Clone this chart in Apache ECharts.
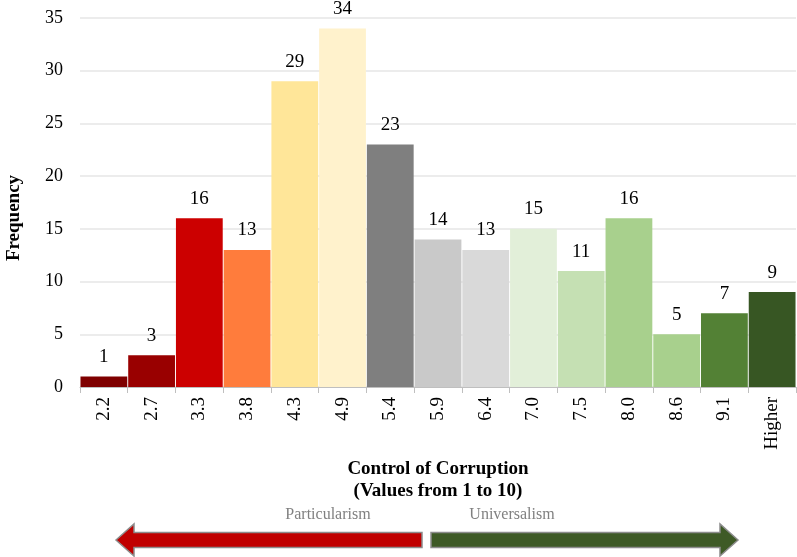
<!DOCTYPE html>
<html>
<head>
<meta charset="utf-8">
<script src="https://cdn.jsdelivr.net/npm/echarts@6/dist/echarts.min.js"></script>
<style>
  html, body { margin: 0; padding: 0; background: #fff; }
  #chart { width: 797px; height: 557px; }
</style>
</head>
<body>
<div id="chart"></div>
<script>
const categories = ['2.2', '2.7', '3.3', '3.8', '4.3', '4.9', '5.4', '5.9', '6.4', '7.0', '7.5', '8.0', '8.6', '9.1', 'Higher'];
const frequency = [1, 3, 16, 13, 29, 34, 23, 14, 13, 15, 11, 16, 5, 7, 9];
const barColors = ['#7f0000', '#990000', '#cc0000', '#ff7c3c', '#ffe699', '#fff2cc', '#7f7f7f', '#c9c9c9',
  '#d9d9d9', '#e2efd9', '#c5e0b3', '#a8d08d', '#a8d08d', '#538135', '#375623'];

const serif = '"Liberation Serif", "Times New Roman", serif';
const chart = echarts.init(document.getElementById('chart'));

// arrow shapes: left (red) and right (green)
function arrowLeft(x0, x1, cy, shaftH, headW, headH) {
  return [[x0, cy], [x0 + headW, cy - headH / 2], [x0 + headW, cy - shaftH / 2], [x1, cy - shaftH / 2],
    [x1, cy + shaftH / 2], [x0 + headW, cy + shaftH / 2], [x0 + headW, cy + headH / 2]];
}
function arrowRight(x0, x1, cy, shaftH, headW, headH) {
  return [[x1, cy], [x1 - headW, cy - headH / 2], [x1 - headW, cy - shaftH / 2], [x0, cy - shaftH / 2],
    [x0, cy + shaftH / 2], [x1 - headW, cy + shaftH / 2], [x1 - headW, cy + headH / 2]];
}

chart.setOption({
  animation: false,
  grid: { left: 80, right: 1, top: 18, bottom: 170, outerBoundsMode: 'none', containLabel: false },
  xAxis: {
    type: 'category',
    data: categories,
    axisLine: { lineStyle: { color: '#bfbfbf', width: 1 } },
    axisTick: { show: true, length: 6, lineStyle: { color: '#bfbfbf' } },
    axisLabel: { rotate: 90, color: '#000', fontFamily: serif, fontSize: 19, margin: 10 },
    name: 'Control of Corruption\n(Values from 1 to 10)',
    nameLocation: 'middle',
    nameGap: 68,
    nameTextStyle: { fontFamily: serif, fontSize: 19, fontWeight: 'bold', color: '#000', lineHeight: 22 }
  },
  yAxis: {
    type: 'value',
    min: 0, max: 35, interval: 5,
    axisLine: { show: false },
    axisTick: { show: false },
    splitLine: { lineStyle: { color: '#e6e6e6', width: 1.5 } },
    axisLabel: { color: '#000', fontFamily: serif, fontSize: 18, margin: 17 }
  },
  series: [{
    type: 'bar',
    data: frequency.map((v, i) => ({ value: v, itemStyle: { color: barColors[i] } })),
    barCategoryGap: '2%',
    label: { show: true, position: 'top', distance: 10, color: '#000', fontFamily: serif, fontSize: 19 }
  }],
  graphic: [
    { type: 'text', x: 14, y: 218, rotation: Math.PI / 2,
      style: { text: 'Frequency', fill: '#000', font: 'bold 19px ' + serif, align: 'center', verticalAlign: 'middle' } },
    { type: 'polygon', shape: { points: arrowLeft(116, 422, 540, 15, 18, 32) },
      style: { fill: '#c00000', stroke: '#8c8c8c', lineWidth: 1.5 } },
    { type: 'polygon', shape: { points: arrowRight(431, 738, 540, 15, 18, 32) },
      style: { fill: '#3e5a26', stroke: '#8c8c8c', lineWidth: 1.5 } },
    { type: 'text', x: 328, y: 515, style: { text: 'Particularism', fill: '#808080', font: '16px ' + serif, align: 'center', verticalAlign: 'middle' } },
    { type: 'text', x: 512, y: 515, style: { text: 'Universalism', fill: '#808080', font: '16px ' + serif, align: 'center', verticalAlign: 'middle' } }
  ]
});
</script>
</body>
</html>
